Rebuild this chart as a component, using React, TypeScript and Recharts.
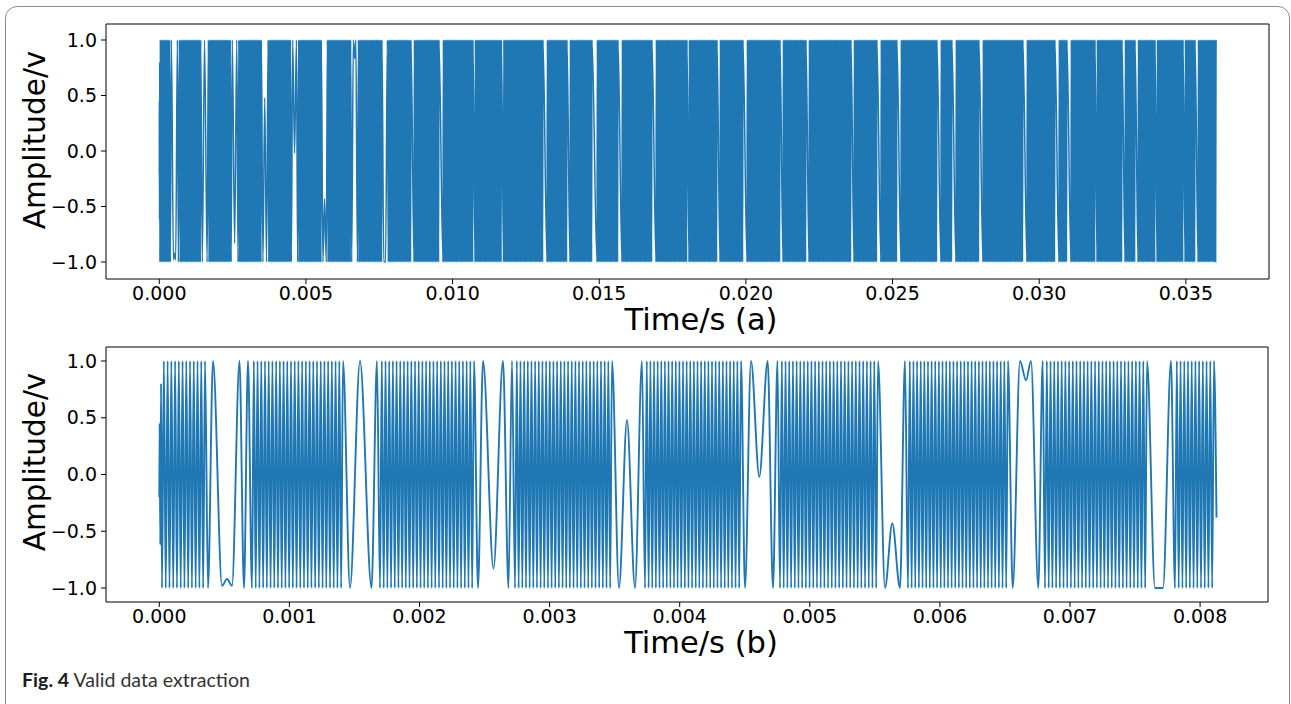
import { LineChart, Line, XAxis, YAxis, ReferenceLine } from 'recharts'

const BLUE = '#1f77b4'
const FONT = '"DejaVu Sans", sans-serif'

// one carrier cycle, counted from the stripes in panel (b), ms
const carrierMs = 0.0285

// panel (b): first samples before the first burst [ms, value]
const leadInB = [[0, -0.2], [0.0023, 0.45], [0.0077, -0.62], [0.0131, 0.8]]

// panel (b): fast carrier bursts [start ms, end ms]
const burstsB = [
  [0.0208, 0.3513], [0.7125, 1.412], [1.6964, 2.419], [2.7341, 3.4796], [3.7333, 4.4712],
  [4.771, 5.5242], [5.7548, 6.5234], [6.8078, 7.5919], [7.8071, 8.1069],
]

// panel (b): turning points of the slow stretch after each burst [ms, value]
const slowB = [
  [[0.3743, -1], [0.4128, 1], [0.4819, -0.98], [0.5204, -0.92], [0.5588, -0.98], [0.6164, 1], [0.651, -1], [0.6818, 1]],
  [[1.4658, -1], [1.5427, 1], [1.6311, -1], [1.6733, 1]],
  [[2.4496, -1], [2.4881, 1], [2.5688, -0.83], [2.6418, 1], [2.6841, -1], [2.711, 1]],
  [[3.5334, -1], [3.5949, 0.48], [3.6564, -1], [3.7102, 1]],
  [[4.5019, -1], [4.548, 1], [4.6118, -0.02], [4.6764, 1], [4.7171, -1], [4.7517, 1]],
  [[5.578, -1], [5.6341, -0.43], [5.6933, -1], [5.7318, 1]],
  [[6.5596, -1], [6.6157, 1], [6.6618, 0.83], [6.7003, 1], [6.7563, -1], [6.7902, 1]],
  [[7.6534, -1], [7.7148, -1], [7.7763, 1]],
]

// panel (b): last sample
const tailB = [8.1261, -0.38]

// panel (a): same trace, running on past 8.1 ms; slow stretches show as white slits [start ms, end ms]
const resumeA = 8.13
const gapsA = [
  [8.582, 8.684], [9.536, 9.672], [10.696, 10.764], [11.667, 11.735], [13.082, 13.219],
  [13.9, 14.002], [14.753, 14.923], [15.639, 15.775], [16.798, 16.934], [17.991, 18.06],
  [19.015, 19.117], [19.901, 20.037], [21.163, 21.265], [22.049, 22.151], [23.583, 23.686],
  [24.466, 24.602], [25.148, 25.285], [26.512, 26.648], [27.024, 27.16], [27.945, 28.081],
  [29.445, 29.581], [30.536, 30.672], [30.945, 31.082], [31.903, 31.971], [32.824, 32.926],
  [33.268, 33.37], [33.95, 34.018], [34.905, 34.973], [35.314, 35.416],
]
const endA = 36.03

const ticksA = [0, 0.005, 0.01, 0.015, 0.02, 0.025, 0.03, 0.035]
const ticksB = [0, 0.001, 0.002, 0.003, 0.004, 0.005, 0.006, 0.007, 0.008]
const yTicks = [-1, -0.5, 0, 0.5, 1]

// turning points of a carrier burst: troughs and crests at the carrier rate
function burst(t0: number, t1: number) {
  let n = Math.round((t1 - t0) / (carrierMs / 2)) + 1
  if (n % 2) n += 1
  const out: number[][] = []
  for (let i = 0; i < n; i++) out.push([t0 + (i * (t1 - t0)) / (n - 1), i % 2 ? 1 : -1])
  return out
}

const traceB: number[][] = [...leadInB]
burstsB.forEach(([a, b], i) => {
  traceB.push(...burst(a, b))
  if (slowB[i]) traceB.push(...slowB[i])
})

const traceA: number[][] = [...traceB]
let from = resumeA
gapsA.forEach(([a, b]) => {
  traceA.push(...burst(from, a))
  from = b
})
traceA.push(...burst(from, endA))
traceB.push(tailB)

const dataA = traceA.map(([t, v]) => ({ t: t / 1000, v }))
const dataB = traceB.map(([t, v]) => ({ t: t / 1000, v }))

const fmtY = (v: number) => (v < 0 ? '\u2212' : '') + Math.abs(v).toFixed(1)
const tickStyle = { fill: '#000', fontSize: 19, fontFamily: FONT }

function Panel(props: {
  data: { t: number; v: number }[]
  top: number
  height: number
  marginTop: number
  marginRight: number
  axisHeight: number
  xDomain: number[]
  yDomain: number[]
  xTicks: number[]
  strokeWidth: number
}) {
  const { data, top, height, marginTop, marginRight, axisHeight, xDomain, yDomain, xTicks, strokeWidth } = props
  return (
    <div style={{ position: 'absolute', left: 0, top }}>
      <LineChart width={1291} height={height} data={data} margin={{ top: marginTop, right: marginRight, bottom: 0, left: 0 }}>
        <XAxis
          dataKey="t"
          type="number"
          domain={xDomain}
          ticks={xTicks}
          interval={0}
          allowDataOverflow
          height={axisHeight}
          tick={tickStyle}
          tickFormatter={(v) => v.toFixed(3)}
          tickSize={5}
          tickMargin={3}
          axisLine={{ stroke: '#000' }}
          tickLine={{ stroke: '#000' }}
        />
        <YAxis
          type="number"
          domain={yDomain}
          ticks={yTicks}
          interval={0}
          allowDataOverflow
          width={106}
          tick={tickStyle}
          tickFormatter={fmtY}
          tickSize={5}
          tickMargin={4}
          axisLine={{ stroke: '#000' }}
          tickLine={{ stroke: '#000' }}
        />
        <ReferenceLine y={yDomain[1]} stroke="#000" />
        <ReferenceLine x={xDomain[1]} stroke="#000" />
        <Line
          dataKey="v"
          type="monotone"
          stroke={BLUE}
          strokeWidth={strokeWidth}
          dot={false}
          isAnimationActive={false}
        />
      </LineChart>
    </div>
  )
}

const axisLabel = { position: 'absolute' as const, fontFamily: FONT, fontSize: 29.5, lineHeight: 0.9, color: '#000', whiteSpace: 'nowrap' as const }

export default function App() {
  return (
    <div style={{ position: 'absolute', left: 0, top: 0, width: 1291, height: 704, background: '#fff', overflow: 'hidden' }}>
      <div style={{ position: 'absolute', left: 5, top: 6, width: 1285, height: 730, border: '1.5px solid #8c8c8c', borderRadius: 12, boxSizing: 'border-box' }} />

      <Panel data={dataA} top={0} height={330} marginTop={24} marginRight={22} axisHeight={51}
        xDomain={[-0.001817, 0.037835]} yDomain={[-1.153, 1.144]} xTicks={ticksA} strokeWidth={1.5} />
      <Panel data={dataB} top={330} height={330} marginTop={17} marginRight={23} axisHeight={58}
        xDomain={[-0.0004097, 0.008522]} yDomain={[-1.1233, 1.1233]} xTicks={ticksB} strokeWidth={1.9} />

      <div style={{ ...axisLabel, fontSize: 30.5, left: 701, top: 306, transform: 'translateX(-50%)' }}>Time/s (a)</div>
      <div style={{ ...axisLabel, fontSize: 30.5, left: 701, top: 629, transform: 'translateX(-50%)' }}>Time/s (b)</div>
      <div style={{ ...axisLabel, left: 35, top: 139.5, transform: 'translate(-50%, -50%) rotate(-90deg)' }}>Amplitude/v</div>
      <div style={{ ...axisLabel, left: 35, top: 462, transform: 'translate(-50%, -50%) rotate(-90deg)' }}>Amplitude/v</div>

      <svg style={{ position: 'absolute', left: 0, top: 660 }} width={400} height={40}>
        <text x={22} y={27} fontFamily="Lato, sans-serif" fontSize={19} textLength={228} lengthAdjust="spacingAndGlyphs">
          <tspan fontWeight="bold" fill="#1a1a1a">Fig. 4</tspan>
          <tspan fill="#333"> Valid data extraction</tspan>
        </text>
      </svg>
    </div>
  )
}
